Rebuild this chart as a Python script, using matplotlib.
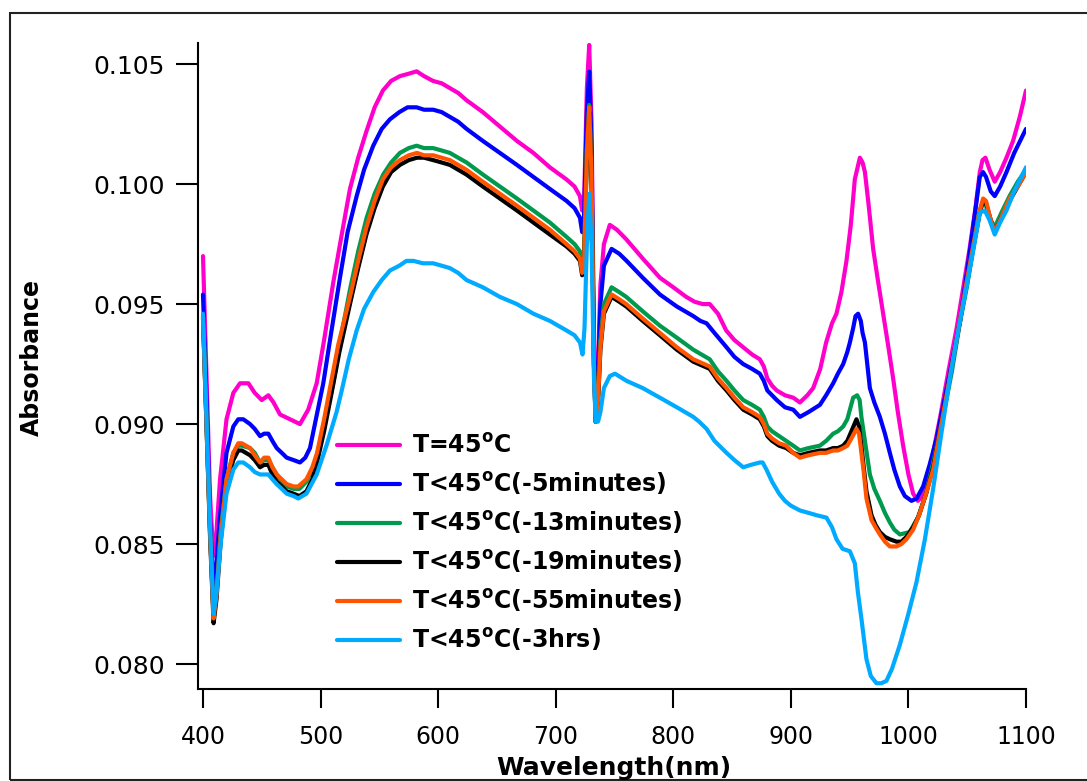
import matplotlib
matplotlib.use("Agg")
import matplotlib.pyplot as plt
from matplotlib.patches import Rectangle

plt.rcParams['font.family'] = ['DejaVu Sans']
plt.rcParams['mathtext.fontset'] = 'dejavusans'

# ---------------- data ----------------
labels = [r"T=45$^{\mathbf{o}}$C",
          r"T<45$^{\mathbf{o}}$C(-5minutes)",
          r"T<45$^{\mathbf{o}}$C(-13minutes)",
          r"T<45$^{\mathbf{o}}$C(-19minutes)",
          r"T<45$^{\mathbf{o}}$C(-55minutes)",
          r"T<45$^{\mathbf{o}}$C(-3hrs)"]
colors = ["#FF00CC", "#0000FF", "#009A4E", "#000000", "#FF5500", "#00AAFF"]

wl_pink = [400, 403, 406, 408.8, 411, 414.5, 420, 425.8, 431.5, 438.6, 444, 450, 455.6, 460, 465.5, 474, 482.5,
           489.5, 496.7, 503, 510.8, 518, 525, 532, 539, 546, 553, 560, 567.5, 575, 581.7, 588, 595.6, 603, 610,
           617, 624, 638, 652.5, 667, 681, 695, 709, 716, 720.6, 722.5, 724, 726.5, 728.5, 730.5, 732.5, 734,
           736, 738, 741, 746, 752, 760, 774, 788.6, 800, 811, 818, 825, 831, 838, 845, 852, 859.5, 867, 873.6,
           877, 880, 884, 888, 895, 902, 907.7, 914, 919, 925, 930, 935, 938.8, 943, 947.3, 951, 954.4, 958.7,
           961, 963, 966, 970, 974, 978.5, 983, 987, 991, 995.5, 1000, 1004, 1008, 1012, 1016, 1021, 1027, 1034,
           1041, 1047, 1052, 1057, 1060.7, 1063, 1065.5, 1069, 1073.4, 1078, 1083.4, 1089, 1094.7, 1100]
ab_pink = [0.0970, 0.0920, 0.0870, 0.0845, 0.0852, 0.0877, 0.0902, 0.0913, 0.0917, 0.0917, 0.0913, 0.0910,
           0.0912, 0.0909, 0.0904, 0.0902, 0.0900, 0.0906, 0.0917, 0.0935, 0.0959, 0.0979, 0.0998, 0.1011,
           0.1022, 0.1032, 0.1039, 0.1043, 0.1045, 0.1046, 0.1047, 0.1045, 0.1043, 0.1042, 0.1040, 0.1038,
           0.1035, 0.1030, 0.1024, 0.1018, 0.1013, 0.1007, 0.1002, 0.0999, 0.0995, 0.0989, 0.0990, 0.1040,
           0.1058, 0.1025, 0.0935, 0.0901, 0.0925, 0.0958, 0.0975, 0.0983, 0.0981, 0.0977, 0.0969, 0.0961,
           0.0957, 0.0953, 0.0951, 0.0950, 0.0950, 0.0946, 0.0939, 0.0935, 0.0932, 0.0929, 0.0927, 0.0924,
           0.0919, 0.0916, 0.0914, 0.0912, 0.0911, 0.0909, 0.0912, 0.0915, 0.0923, 0.0934, 0.0942, 0.0946,
           0.0955, 0.0968, 0.0983, 0.1002, 0.1011, 0.1009, 0.1005, 0.0992, 0.0973, 0.0960, 0.0946, 0.0932,
           0.0919, 0.0905, 0.0891, 0.0879, 0.0871, 0.0868, 0.0870, 0.0876, 0.0888, 0.0903, 0.0922, 0.0940,
           0.0958, 0.0973, 0.0990, 0.1005, 0.1010, 0.1011, 0.1006, 0.1001, 0.1005, 0.1011, 0.1018, 0.1028,
           0.1039]

wl_blue = [400, 403, 406, 408.8, 411, 414.5, 420, 425.8, 430, 434.3, 440, 444, 448.5, 452, 455.6, 459, 462.7,
           467, 471.2, 477, 482.5, 487, 491, 496, 502.3, 509, 516.5, 523, 530.7, 537, 544.8, 552, 559, 567, 574,
           581.7, 588, 595.8, 603, 610, 617, 624.2, 638, 652.5, 667, 681, 695, 709.2, 716, 720.6, 722.5, 724,
           726.5, 728.5, 730.5, 732.5, 734, 736, 738, 741, 747.5, 754, 760.3, 774, 788.6, 803, 817, 823, 828.3,
           835, 845.3, 852, 859.5, 867, 873.6, 877, 880, 884, 888, 895, 902, 907.7, 915, 924.7, 930, 936, 940,
           944.5, 948, 950.2, 953, 955, 957.2, 959.5, 961, 963, 967.2, 971, 975.7, 980, 984.2, 988, 992.7, 997,
           1002.6, 1007, 1012.5, 1018, 1023.9, 1031, 1038, 1044, 1049.4, 1055, 1060.7, 1063.5, 1066, 1070,
           1073.4, 1078, 1083.4, 1090, 1095, 1100]
ab_blue = [0.0954, 0.0910, 0.0860, 0.0831, 0.0840, 0.0862, 0.0888, 0.0899, 0.0902, 0.0902, 0.0900, 0.0898,
           0.0895, 0.0896, 0.0896, 0.0893, 0.0890, 0.0888, 0.0886, 0.0885, 0.0884, 0.0886, 0.0890, 0.0902,
           0.0917, 0.0938, 0.0961, 0.0980, 0.0995, 0.1006, 0.1016, 0.1023, 0.1027, 0.1030, 0.1032, 0.1032,
           0.1031, 0.1031, 0.1030, 0.1028, 0.1026, 0.1023, 0.1018, 0.1013, 0.1008, 0.1003, 0.0998, 0.0993,
           0.0990, 0.0986, 0.0980, 0.0985, 0.1030, 0.1047, 0.1015, 0.0930, 0.0901, 0.0920, 0.0950, 0.0966,
           0.0973, 0.0971, 0.0968, 0.0961, 0.0954, 0.0949, 0.0945, 0.0943, 0.0942, 0.0938, 0.0932, 0.0928,
           0.0925, 0.0923, 0.0921, 0.0918, 0.0914, 0.0912, 0.0910, 0.0907, 0.0906, 0.0903, 0.0905, 0.0908,
           0.0912, 0.0917, 0.0921, 0.0925, 0.0930, 0.0934, 0.0940, 0.0945, 0.0946, 0.0943, 0.0938, 0.0934,
           0.0915, 0.0909, 0.0903, 0.0896, 0.0888, 0.0881, 0.0874, 0.0870, 0.0868, 0.0869, 0.0874, 0.0883,
           0.0894, 0.0911, 0.0928, 0.0943, 0.0962, 0.0982, 0.1003, 0.1005, 0.1003, 0.0997, 0.0995, 0.0999,
           0.1005, 0.1013, 0.1018, 0.1023]

wl_green = [400, 403, 406, 409, 411.5, 415, 420, 425.8, 430, 433, 440, 444, 448.5, 452, 455.6, 459, 462.7, 467,
            471.2, 477, 482, 488, 493, 497, 503, 510.8, 518, 525, 532, 539.2, 546, 553.3, 560, 567.5, 575, 581.7,
            588, 595.8, 603, 610, 617, 624.2, 638, 652.5, 667, 681, 695, 709.2, 716, 720.6, 722.5, 724, 726.5,
            728.5, 730.5, 732.5, 734, 736, 738, 741, 747.5, 754, 760, 774, 788.6, 803, 817, 831, 838, 845.3, 852,
            859.5, 867, 873.6, 877, 880, 884, 890, 896, 902, 907.7, 915, 924.7, 930, 936, 940, 944.5, 948, 953,
            956.4, 958.5, 960, 963, 967.2, 971, 975.7, 980, 984.2, 988, 992.7, 1001, 1008, 1015, 1022, 1029.5,
            1037, 1043.7, 1050, 1055, 1060, 1063.5, 1066, 1070, 1073.4, 1079, 1086, 1093, 1100]
ab_green = [0.0945, 0.0900, 0.0855, 0.0820, 0.0830, 0.0855, 0.0877, 0.0888, 0.0891, 0.0891, 0.0890, 0.0888,
            0.0884, 0.0885, 0.0885, 0.0882, 0.0879, 0.0876, 0.0874, 0.0873, 0.0873, 0.0876, 0.0881, 0.0887,
            0.0900, 0.0917, 0.0938, 0.0956, 0.0972, 0.0986, 0.0996, 0.1004, 0.1009, 0.1013, 0.1015, 0.1016,
            0.1015, 0.1015, 0.1014, 0.1013, 0.1011, 0.1009, 0.1004, 0.0999, 0.0994, 0.0989, 0.0984, 0.0978,
            0.0975, 0.0972, 0.0966, 0.0968, 0.1015, 0.1033, 0.1005, 0.0925, 0.0901, 0.0912, 0.0935, 0.0950,
            0.0957, 0.0955, 0.0953, 0.0947, 0.0941, 0.0936, 0.0931, 0.0927, 0.0922, 0.0918, 0.0914, 0.0910,
            0.0908, 0.0906, 0.0903, 0.0899, 0.0897, 0.0895, 0.0893, 0.0891, 0.0889, 0.0890, 0.0891, 0.0893,
            0.0896, 0.0897, 0.0899, 0.0902, 0.0911, 0.0912, 0.0910, 0.0903, 0.0893, 0.0879, 0.0873, 0.0868,
            0.0863, 0.0859, 0.0856, 0.0854, 0.0855, 0.0861, 0.0871, 0.0886, 0.0903, 0.0922, 0.0942, 0.0958,
            0.0973, 0.0988, 0.0993, 0.0991, 0.0985, 0.0982, 0.0988, 0.0995, 0.1001, 0.1006]

wl_black = [400, 403, 406, 409, 411.5, 415, 420, 425.8, 430, 433, 440, 444, 448.5, 452, 455.6, 459, 462.7, 467,
            471.2, 477, 482, 488, 493, 497, 503, 509, 516, 525, 532, 539, 546, 553, 560, 567.5, 575, 582, 588,
            595.8, 603, 610, 617, 624, 638, 652.5, 667, 681, 695, 709.2, 716, 720.6, 722.5, 724, 726.5, 728.5,
            730.5, 732.5, 734, 736, 738, 741, 747.5, 754, 760, 774, 788.6, 803, 817, 831, 838, 845.3, 852, 859.5,
            867, 873.6, 877, 880, 884, 890, 896, 902, 907.7, 915, 924.7, 930, 936, 940, 944.5, 948, 951.5, 955.8,
            958, 960, 962, 964.3, 968.6, 972, 975.7, 980, 984.2, 989.8, 994, 998.3, 1004, 1009, 1015, 1021, 1028,
            1035, 1042, 1049.4, 1055, 1060.7, 1063.5, 1066, 1070, 1073.4, 1079, 1086, 1093, 1100]
ab_black = [0.0944, 0.0899, 0.0853, 0.0817, 0.0827, 0.0851, 0.0875, 0.0885, 0.0889, 0.0889, 0.0887, 0.0885,
            0.0882, 0.0883, 0.0883, 0.0879, 0.0876, 0.0874, 0.0872, 0.0871, 0.0870, 0.0872, 0.0877, 0.0884,
            0.0897, 0.0912, 0.0930, 0.0950, 0.0965, 0.0979, 0.0990, 0.0999, 0.1005, 0.1008, 0.1010, 0.1011,
            0.1011, 0.1010, 0.1009, 0.1008, 0.1006, 0.1004, 0.0999, 0.0994, 0.0989, 0.0984, 0.0979, 0.0974,
            0.0971, 0.0968, 0.0962, 0.0965, 0.1012, 0.1030, 0.1002, 0.0925, 0.0901, 0.0909, 0.0931, 0.0946,
            0.0953, 0.0951, 0.0949, 0.0943, 0.0937, 0.0931, 0.0926, 0.0923, 0.0918, 0.0914, 0.0910, 0.0906,
            0.0904, 0.0902, 0.0899, 0.0895, 0.0893, 0.0891, 0.0890, 0.0888, 0.0887, 0.0888, 0.0889, 0.0889,
            0.0890, 0.0890, 0.0891, 0.0893, 0.0897, 0.0902, 0.0899, 0.0891, 0.0882, 0.0872, 0.0862, 0.0858,
            0.0855, 0.0853, 0.0852, 0.0851, 0.0851, 0.0853, 0.0857, 0.0862, 0.0871, 0.0882, 0.0900, 0.0919,
            0.0938, 0.0958, 0.0973, 0.0988, 0.0993, 0.0992, 0.0985, 0.0980, 0.0986, 0.0993, 0.0999, 0.1005]

wl_orange = [400, 403, 406, 409, 411.5, 415, 420, 425.8, 430, 433, 440, 444, 448.5, 452, 455.6, 459, 462.7, 467,
             471.2, 477, 481, 488, 493, 497, 503, 508, 515, 525, 532, 539, 546, 553, 560, 567.5, 575, 582, 588,
             595.8, 603, 610, 617, 624, 638, 652.5, 667, 681, 695, 709.2, 716, 720.6, 722.5, 724, 726.5, 728.5,
             730.5, 732.5, 734, 736, 738, 741, 747.5, 754, 760, 774, 788.6, 803, 817, 831, 838, 845.3, 852,
             859.5, 867, 873.6, 877, 880, 884, 890, 896, 902, 907.7, 915, 924.7, 930, 936, 940, 944.5, 948,
             951.5, 955.8, 958, 960, 962, 964.3, 968.6, 972, 975.7, 980, 984.2, 989.8, 994, 998.3, 1004, 1009,
             1015, 1021, 1028, 1035, 1042, 1049.4, 1055, 1060.7, 1063.5, 1066, 1070, 1073.4, 1079, 1086, 1093,
             1100]
ab_orange = [0.0945, 0.0900, 0.0855, 0.0819, 0.0829, 0.0853, 0.0877, 0.0888, 0.0892, 0.0892, 0.0890, 0.0887,
             0.0884, 0.0886, 0.0886, 0.0882, 0.0879, 0.0877, 0.0875, 0.0874, 0.0874, 0.0877, 0.0882, 0.0888,
             0.0902, 0.0915, 0.0933, 0.0953, 0.0968, 0.0982, 0.0993, 0.1002, 0.1007, 0.1010, 0.1012, 0.1013,
             0.1012, 0.1012, 0.1011, 0.1010, 0.1008, 0.1006, 0.1001, 0.0996, 0.0991, 0.0986, 0.0981, 0.0975,
             0.0972, 0.0969, 0.0963, 0.0966, 0.1013, 0.1032, 0.1003, 0.0925, 0.0901, 0.0910, 0.0932, 0.0947,
             0.0954, 0.0952, 0.0950, 0.0944, 0.0938, 0.0932, 0.0927, 0.0924, 0.0919, 0.0915, 0.0911, 0.0907,
             0.0905, 0.0903, 0.0900, 0.0896, 0.0894, 0.0892, 0.0891, 0.0888, 0.0886, 0.0887, 0.0888, 0.0888,
             0.0889, 0.0889, 0.0890, 0.0891, 0.0894, 0.0898, 0.0896, 0.0888, 0.0880, 0.0869, 0.0860, 0.0857,
             0.0854, 0.0851, 0.0849, 0.0849, 0.0850, 0.0852, 0.0856, 0.0862, 0.0871, 0.0881, 0.0900, 0.0919,
             0.0938, 0.0959, 0.0974, 0.0989, 0.0994, 0.0993, 0.0985, 0.0980, 0.0986, 0.0994, 0.0999, 0.1005]

wl_lblue = [400, 403, 406, 409, 411.5, 415, 420, 425.8, 430, 434.3, 440, 444, 448.5, 452, 455.6, 459, 462.7, 467,
            471.2, 477, 481, 488, 496.7, 505, 513.6, 518, 524, 530.7, 537, 544.8, 552, 559, 567, 573, 579, 587,
            595.8, 603, 610, 617, 624.2, 638, 652.5, 667, 681, 695, 709.2, 716, 720.6, 722.8, 724.5, 726.5,
            728.5, 730.5, 732.5, 734, 736, 738, 741, 746, 750.4, 760.3, 774, 788.6, 803, 817, 822, 828.3, 835,
            845.3, 852, 859.5, 866, 873.6, 876, 879.3, 884, 890, 895, 900, 907.7, 915, 922, 930.3, 935, 938.8,
            944, 950.2, 954.4, 957, 960, 964.3, 968, 972.8, 977, 981.3, 986, 992.7, 1000, 1006.8, 1014, 1021,
            1028, 1035.2, 1042, 1049.4, 1055, 1060.7, 1065, 1069, 1073.4, 1078, 1083.4, 1090, 1095, 1100]
ab_lblue = [0.0946, 0.0902, 0.0857, 0.0821, 0.0830, 0.0850, 0.0871, 0.0881, 0.0884, 0.0884, 0.0882, 0.0880,
            0.0879, 0.0879, 0.0879, 0.0877, 0.0875, 0.0873, 0.0871, 0.0870, 0.0869, 0.0871, 0.0879, 0.0891,
            0.0905, 0.0914, 0.0927, 0.0939, 0.0948, 0.0955, 0.0960, 0.0964, 0.0966, 0.0968, 0.0968, 0.0967,
            0.0967, 0.0966, 0.0965, 0.0963, 0.0960, 0.0957, 0.0953, 0.0950, 0.0946, 0.0943, 0.0939, 0.0937,
            0.0934, 0.0929, 0.0940, 0.0975, 0.0996, 0.0975, 0.0920, 0.0901, 0.0901, 0.0905, 0.0915, 0.0920,
            0.0921, 0.0918, 0.0915, 0.0911, 0.0907, 0.0903, 0.0901, 0.0898, 0.0893, 0.0888, 0.0885, 0.0882,
            0.0883, 0.0884, 0.0884, 0.0881, 0.0876, 0.0871, 0.0868, 0.0866, 0.0864, 0.0863, 0.0862, 0.0861,
            0.0857, 0.0852, 0.0848, 0.0847, 0.0842, 0.0830, 0.0819, 0.0802, 0.0795, 0.0792, 0.0792, 0.0793,
            0.0798, 0.0808, 0.0821, 0.0834, 0.0852, 0.0873, 0.0896, 0.0919, 0.0938, 0.0957, 0.0972, 0.0988,
            0.0989, 0.0985, 0.0979, 0.0984, 0.0989, 0.0997, 0.1002, 0.1007]

series_x = [wl_pink, wl_blue, wl_green, wl_black, wl_orange, wl_lblue]
series_y = [ab_pink, ab_blue, ab_green, ab_black, ab_orange, ab_lblue]

xticks = [400, 500, 600, 700, 800, 900, 1000, 1100]
yticks = [0.080, 0.085, 0.090, 0.095, 0.100, 0.105]

# ---------------- figure ----------------
W, H = 1087, 781
fig = plt.figure(figsize=(W / 100, H / 100), dpi=100)
fig.patch.set_facecolor("white")

# outer frame
fig.patches.append(Rectangle((10 / W, 1 / H), 1.2, (780 - 13) / H, transform=fig.transFigure,
                             fill=False, edgecolor="#222222", linewidth=1.5, zorder=0))

ax = fig.add_axes([198 / W, 1 - 689 / H, (1026 - 198) / W, (689 - 43) / H])

handles = []
for xs, ys, c, lab in zip(series_x, series_y, colors, labels):
    h, = ax.plot(xs, ys, color=c, lw=3.0, label=lab, solid_capstyle="round", solid_joinstyle="round")
    handles.append(h)

ax.set_xlim(395.75, 1100)
ax.set_ylim(0.07896, 0.10588)
ax.set_xticks(xticks)
ax.set_xticklabels([str(t) for t in xticks])
ax.set_yticks(yticks)
ax.set_yticklabels([f"{t:.3f}" for t in yticks])

for s in ["top", "right"]:
    ax.spines[s].set_visible(False)
for s in ["left", "bottom"]:
    ax.spines[s].set_linewidth(1.5)
    ax.spines[s].set_color("black")

ax.tick_params(axis="y", direction="out", length=16, width=1.5, pad=8, labelsize=18, colors="black")
ax.tick_params(axis="x", direction="out", length=14, width=1.5, pad=12, labelsize=17, colors="black")

fig.text(614 / W, 1 - 768 / H, "Wavelength(nm)", ha="center", va="center",
         fontsize=18, fontweight="bold")
fig.text(32 / W, 1 - 357 / H, "Absorbance", ha="center", va="center", rotation=90,
         fontsize=17, fontweight="bold")

leg = ax.legend(handles=handles, loc="upper left",
                bbox_to_anchor=((337 - 198) / 828, (689 - 434) / 646),
                frameon=False, prop={"weight": "bold", "size": 17},
                handlelength=2.67, handletextpad=0.5, labelspacing=0.51,
                borderpad=0, borderaxespad=0)

fig.savefig("out.png", dpi=100, facecolor="white")
